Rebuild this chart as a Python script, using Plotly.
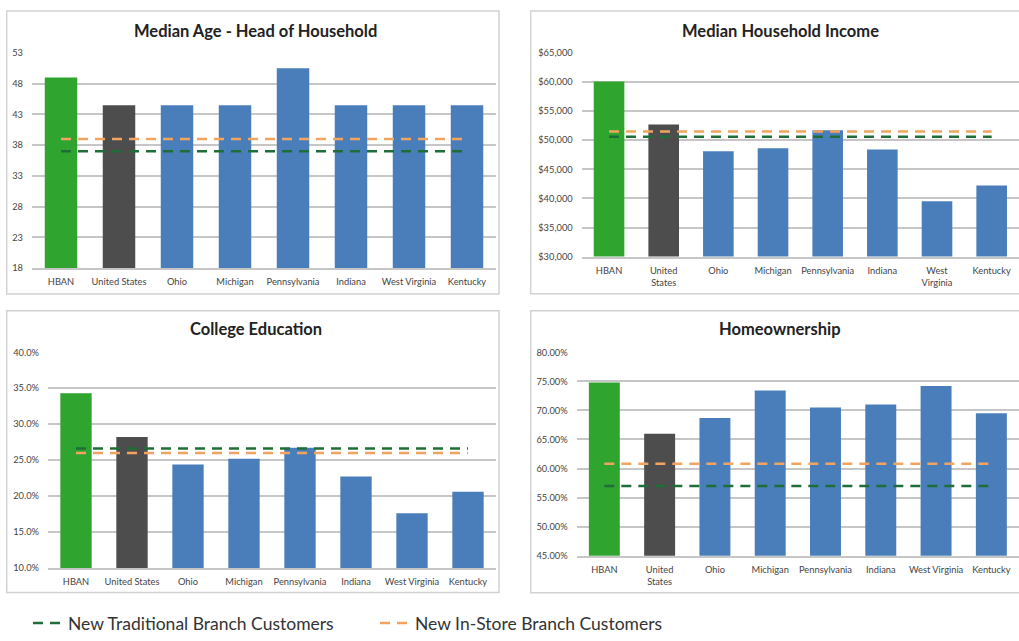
import plotly.graph_objects as go

W, H = 1019, 641

categories = ["HBAN", "United States", "Ohio", "Michigan", "Pennsylvania",
              "Indiana", "West Virginia", "Kentucky"]
cat_labels_top_right = ["HBAN", "United<br>States", "Ohio", "Michigan", "Pennsylvania",
                        "Indiana", "West<br>Virginia", "Kentucky"]
cat_labels_bottom_right = ["HBAN", "United<br>States", "Ohio", "Michigan", "Pennsylvania",
                           "Indiana", "West Virginia", "Kentucky"]

age_values = [49.0, 44.5, 44.5, 44.5, 50.5, 44.5, 44.5, 44.5]
age_traditional = 37.0
age_instore = 39.0

income_values = [60100, 52700, 48100, 48600, 51700, 48400, 39500, 42200]
income_traditional = 50600
income_instore = 51500

college_values = [34.3, 28.2, 24.4, 25.2, 26.7, 22.7, 17.6, 20.6]
college_traditional = 26.6
college_instore = 26.0

home_values = [74.8, 66.0, 68.7, 73.4, 70.5, 71.0, 74.2, 69.5]
home_traditional = 57.0
home_instore = 60.8

titles = ["Median Age - Head of Household", "Median Household Income",
          "College Education", "Homeownership"]

GREEN = "#2fa530"
GREY = "#4d4d4d"
BLUE = "#4a7ebb"
DGREEN = "#1f6e38"
ORANGE = "#f2a35e"
bar_colors = [GREEN, GREY] + [BLUE] * 6
DASH = "10px,7px"

def px_x(p):
    return p / W

def px_y(p):
    return 1 - p / H

fig = go.Figure()

panels = [
    dict(vals=age_values, trad=age_traditional, inst=age_instore,
         labels=categories, dom=(32, 496, 47.7, 266.7),
         rng=[18, 53], dtick=5, fmt="d", pre="", suf="", box=(6.7, 499, 5, 293),
         title_xy=(256, 25)),
    dict(vals=income_values, trad=income_traditional, inst=income_instore,
         labels=cat_labels_top_right, dom=(581.7, 1019, 47.7, 255),
         rng=[30000, 65000], dtick=5000, fmt=",d", pre="$", suf="", box=(530.7, 1030, 5, 292.7),
         title_xy=(780, 25)),
    dict(vals=college_values, trad=college_traditional, inst=college_instore,
         labels=categories, dom=(48, 496, 352.3, 571.7),
         rng=[10, 40], dtick=5, fmt=".1f", pre="", suf="%", box=(6.7, 499, 310, 596.7),
         title_xy=(256, 329)),
    dict(vals=home_values, trad=home_traditional, inst=home_instore,
         labels=cat_labels_bottom_right, dom=(576.7, 1019, 352.3, 559.3),
         rng=[45, 80], dtick=5, fmt=".2f", pre="", suf="%", box=(530.7, 1030, 310, 597),
         title_xy=(780, 329)),
]

shapes = []
annotations = []
for i, p in enumerate(panels):
    n = "" if i == 0 else str(i + 1)
    xa, ya = "x" + n, "y" + n
    fig.add_trace(go.Bar(x=categories, y=p["vals"], marker=dict(color=bar_colors, line=dict(width=0)),
                         xaxis=xa, yaxis=ya, showlegend=False))
    fig.add_trace(go.Scatter(x=categories, y=[p["trad"]] * len(categories), mode="lines",
                             line=dict(color=DGREEN, width=2.5, dash=DASH),
                             name="New Traditional Branch Customers",
                             xaxis=xa, yaxis=ya, showlegend=(i == 0)))
    fig.add_trace(go.Scatter(x=categories, y=[p["inst"]] * len(categories), mode="lines",
                             line=dict(color=ORANGE, width=2.5, dash=DASH),
                             name="New In-Store Branch Customers",
                             xaxis=xa, yaxis=ya, showlegend=(i == 0)))
    x0, x1, y0, y1 = p["dom"]
    fig.layout["xaxis" + n] = dict(
        domain=[px_x(x0), min(px_x(x1), 1.0)], anchor=ya,
        tickmode="array", tickvals=categories, ticktext=p["labels"],
        showgrid=False, showline=True, linecolor="#c6c6c6", linewidth=1.5,
        tickfont=dict(family="Lato", size=9.3, color="#444"), ticks="",
        ticklabelstandoff=4, fixedrange=True)
    fig.layout["yaxis" + n] = dict(
        domain=[px_y(y1), px_y(y0)], anchor=xa, range=p["rng"],
        tick0=p["rng"][0], dtick=p["dtick"], tickformat=p["fmt"],
        tickprefix=p["pre"], ticksuffix=p["suf"],
        showgrid=True, gridcolor="#c6c6c6", gridwidth=1.5, zeroline=False,
        tickfont=dict(family="Lato", size=9.3, color="#444"), ticks="",
        ticklabelstandoff=8, fixedrange=True)
    bx0, bx1, by0, by1 = p["box"]
    shapes.append(dict(type="rect", xref="paper", yref="paper",
                       x0=px_x(bx0), x1=px_x(bx1), y0=px_y(by1), y1=px_y(by0),
                       line=dict(color="#d2d2d2", width=1.5), layer="below"))
    tx, ty = p["title_xy"]
    annotations.append(dict(text="<b>" + titles[i] + "</b>", xref="paper", yref="paper",
                            x=px_x(tx), y=px_y(ty), xanchor="center", yanchor="middle",
                            showarrow=False, font=dict(family="Lato", size=16.5, color="#222")))

fig.update_layout(
    width=W, height=H, margin=dict(l=0, r=0, t=0, b=0),
    paper_bgcolor="white", plot_bgcolor="white",
    bargap=0.44, shapes=shapes, annotations=annotations,
    showlegend=True,
    legend=dict(orientation="h", x=px_x(28), xanchor="left", y=px_y(628), yanchor="middle",
                font=dict(family="Lato", size=17.5, color="#333"),
                bgcolor="rgba(0,0,0,0)", entrywidth=302, entrywidthmode="pixels",
                tracegroupgap=0),
)

fig.write_html("out.html", config={"displayModeBar": False},
               post_script="document.body.style.margin='0';document.body.style.overflow='hidden';")
